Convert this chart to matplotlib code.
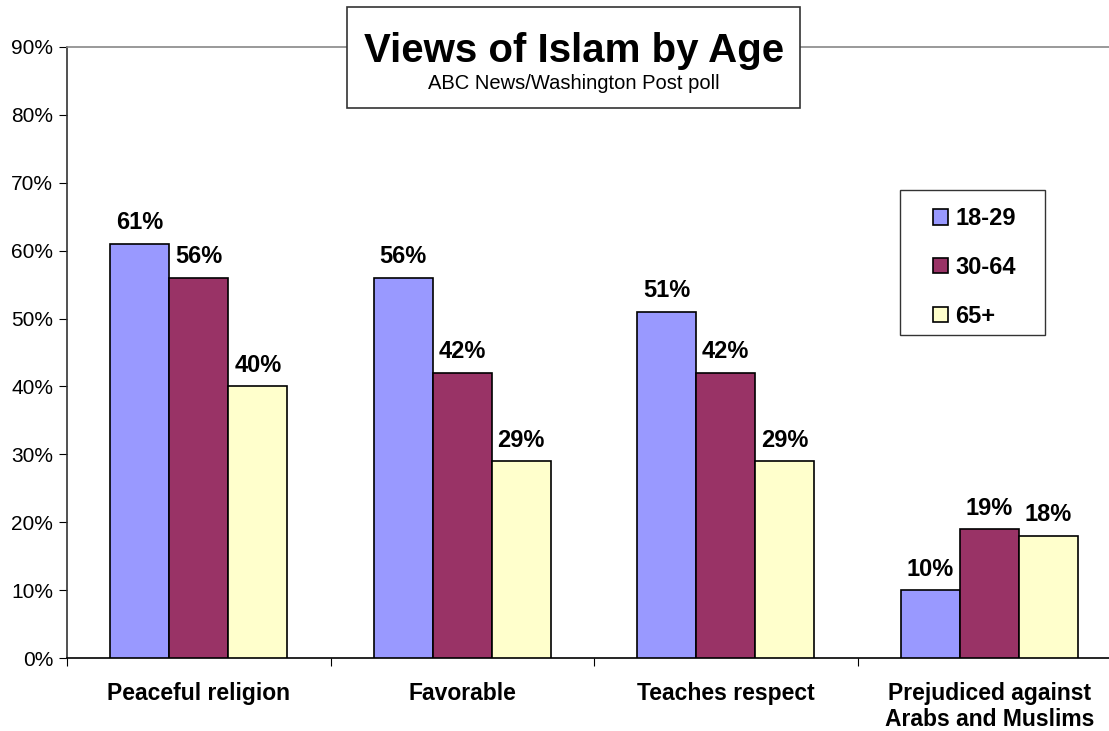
import matplotlib
matplotlib.use("Agg")
import matplotlib.pyplot as plt
from matplotlib.patches import Rectangle, Patch
import numpy as np

categories = ["Peaceful religion", "Favorable", "Teaches respect",
              "Prejudiced against\nArabs and Muslims"]
age_groups = ["18-29", "30-64", "65+"]
young = [61, 56, 51, 10]
middle = [56, 42, 42, 19]
older = [40, 29, 29, 18]
colors = ["#9999FF", "#993366", "#FFFFCC"]

plt.rcParams["font.family"] = ["Liberation Sans", "DejaVu Sans"]

fig = plt.figure(figsize=(11.09, 7.31), dpi=100)
W, H = 1109, 731
# plot area runs a little past the right edge of the canvas
ax = fig.add_axes([67 / W, (H - 658) / H, 1054 / W, 611 / H])

x = np.arange(len(categories)) + 0.5
width = 0.224
for i, (vals, col) in enumerate(zip([young, middle, older], colors)):
    pos = x + (i - 1) * width
    ax.bar(pos, vals, width, color=col, edgecolor="black", linewidth=1.2, zorder=3)
    for p, v in zip(pos, vals):
        ax.text(p, v + 1.4, f"{v}%", ha="center", va="bottom",
                fontsize=17, fontweight="bold")

ax.set_xlim(0, 4)
ax.set_ylim(0, 90)
ax.set_yticks(np.arange(0, 91, 10))
ax.set_yticklabels([f"{t}%" for t in range(0, 91, 10)], fontsize=15)
ax.set_xticks([0, 1, 2, 3, 4])
ax.set_xticklabels([])
ax.set_xticks(x, minor=True)
ax.set_xticklabels(categories, minor=True, fontsize=16.5, fontweight="bold",
                   linespacing=1.2)
ax.tick_params(axis="x", which="minor", length=0, pad=17)
ax.tick_params(axis="x", which="major", length=6, direction="out", color="black")
ax.tick_params(axis="y", length=6, direction="out", pad=4)

ax.spines["top"].set_color("#888888")
ax.spines["right"].set_visible(False)
ax.spines["left"].set_color("#333333")
ax.spines["bottom"].set_color("black")
for s in ax.spines.values():
    s.set_linewidth(1.2)

# legend frame drawn separately so the side padding can be wider than the top
fig.patches.append(Rectangle((900 / W, 1 - 335 / H), 145 / W, 145 / H,
                             transform=fig.transFigure, facecolor="white",
                             edgecolor="#333333", linewidth=1.0, zorder=4))
handles = [Patch(facecolor=c, edgecolor="black", linewidth=1.2) for c in colors]
leg = fig.legend(handles, age_groups, loc="upper left",
                 bbox_to_anchor=(933 / W, 1 - 207 / H),
                 prop={"size": 17, "weight": "bold"},
                 handlelength=0.64, handleheight=0.64, handletextpad=0.3,
                 labelspacing=1.1, borderpad=0, borderaxespad=0,
                 frameon=False)
leg.set_zorder(5)

# title box sits on top of the upper frame line
fig.patches.append(Rectangle((347 / W, 1 - 108 / H), 453 / W, 101 / H,
                             transform=fig.transFigure, facecolor="white",
                             edgecolor="#333333", linewidth=1.2, zorder=5))
fig.text(574 / W, 1 - 62 / H, "Views of Islam by Age", ha="center", va="baseline",
         fontsize=29, fontweight="bold", zorder=6)
fig.text(574 / W, 1 - 89 / H, "ABC News/Washington Post poll", ha="center",
         va="baseline", fontsize=14.5, zorder=6)

fig.savefig("out.png", dpi=100)
